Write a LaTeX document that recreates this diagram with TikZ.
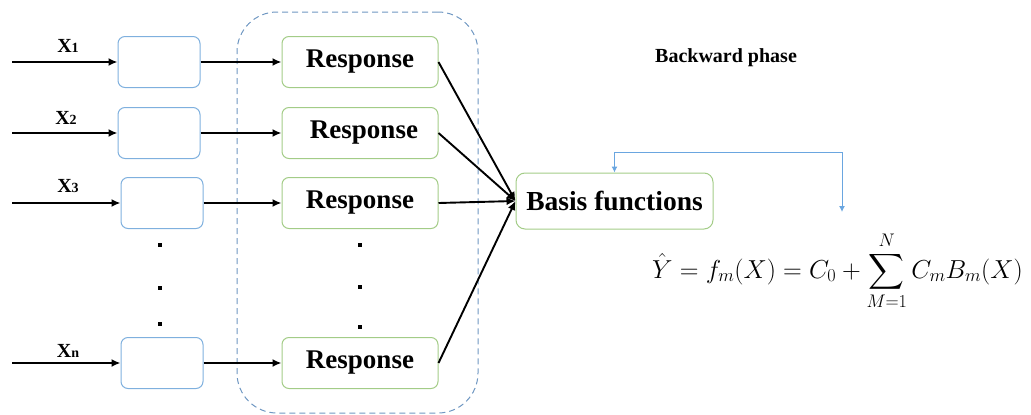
\RequirePackage{fix-cm}
\documentclass[tikz,border=0pt]{standalone}
\usepackage{amsmath}
\usepackage{fontspec}
\setmainfont{Liberation Serif}
\usetikzlibrary{arrows.meta}
\definecolor{inblue}{HTML}{7FB0DE}
\definecolor{resgreen}{HTML}{A3CC87}
\definecolor{dashblue}{HTML}{6F97C2}
\definecolor{fbblue}{HTML}{6AA6E0}
\tikzset{
  inbox/.style={draw=inblue, line width=1pt, rounded corners=7pt, minimum width=82pt, minimum height=51pt, inner sep=0pt},
  resbox/.style={draw=resgreen, line width=1pt, rounded corners=7pt, minimum width=156pt, minimum height=51pt, inner sep=0pt, font=\fontsize{27}{30}\selectfont\bfseries},
  flow/.style={line width=1.9pt, -{Latex[length=9pt,width=8pt]}},
  xlab/.style={font=\fontsize{20}{23}\selectfont\bfseries, inner sep=0pt},
  vdot/.style={fill=black, minimum size=3.5pt, inner sep=0pt},
  fbline/.style={draw=fbblue, line width=1pt, {Latex[length=6pt,width=6pt]}-{Latex[length=6pt,width=6pt]}}
}
\newcommand{\xsub}[2]{#1{\fontsize{14}{15}\selectfont #2}}
\begin{document}
\begin{tikzpicture}[x=1pt,y=-1pt]
\useasboundingbox (0,0) rectangle (1031,415);
% dashed group
\node[draw=dashblue, dashed, dash pattern=on 6pt off 4pt, line width=1pt, rounded corners=40pt, minimum width=241pt, minimum height=401pt, inner sep=0pt] (grp) at (357.5,212.5) {};
% input boxes
\node[inbox] (b1) at (159,62) {};
\node[inbox] (b2) at (159,133) {};
\node[inbox] (b3) at (162,203) {};
\node[inbox] (bn) at (162,363) {};
% response boxes
\node[resbox] (r1) at (360,62) {Response};
\node[resbox] (r2) at (360,133) {\hspace{8pt}Response};
\node[resbox] (r3) at (360,203) {Response};
\node[resbox] (rn) at (360,363) {Response};
% basis
\node[draw=resgreen, line width=1pt, rounded corners=9pt, minimum width=197pt, minimum height=56pt, inner sep=0pt, font=\fontsize{27.5}{30}\selectfont\bfseries] (bf) at (614.5,201) {Basis functions};
% inputs
\coordinate (i1) at (12,62);
\coordinate (i2) at (12,133);
\coordinate (i3) at (12,203);
\coordinate (in) at (12,363);
\draw[flow] (i1) -- (b1.west);
\draw[flow] (i2) -- (b2.west);
\draw[flow] (i3) -- (b3.west);
\draw[flow] (in) -- (bn.west);
\node[xlab] (x1) at (68,46) {\xsub{X}{1}};
\node[xlab] (x2) at (66,118) {\xsub{X}{2}};
\node[xlab] (x3) at (68,186) {\xsub{X}{3}};
\node[xlab] (xn) at (68,351) {\xsub{X}{n}};
% to responses
\draw[flow] (b1.east) -- (r1.west);
\draw[flow] (b2.east) -- (r2.west);
\draw[flow] (b3.east) -- (r3.west);
\draw[flow] (bn.east) -- (rn.west);
% to basis
\draw[flow] (r1.east) -- (bf.west);
\draw[flow] (r2.east) -- (bf.west);
\draw[flow] (r3.east) -- (bf.west);
\draw[flow] (rn.east) -- (bf.west);
% dots
\node[vdot] (d1) at (160,245) {};
\node[vdot] (d2) at (160,288) {};
\node[vdot] (d3) at (160,324) {};
\node[vdot] (e1) at (360,245) {};
\node[vdot] (e2) at (360,287) {};
\node[vdot] (e3) at (360,327) {};
% backward phase
\node[anchor=west, font=\fontsize{20}{23}\selectfont\bfseries, inner sep=0pt] (bp) at (655,58) {Backward phase};
% feedback
\coordinate (top) at (842,152);
\coordinate (fb) at (842,212);
\draw[fbline] (bf.north) |- (top) -- (fb);
% formula
\node[anchor=base west, inner sep=0pt, font=\fontsize{26}{30}\selectfont] (eq) at (652,278) {$\displaystyle \hat{Y} = f_m(X) = C_0 + \sum_{M=1}^{N} C_m B_m(X)$};
\end{tikzpicture}
\end{document}
